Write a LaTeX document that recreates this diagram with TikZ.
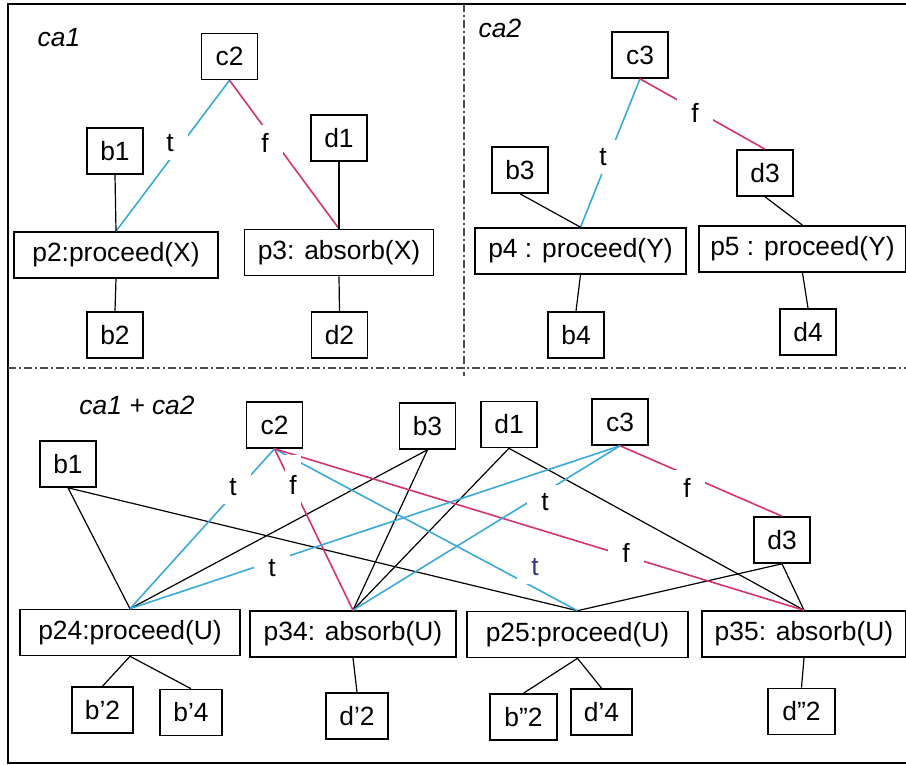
\documentclass[tikz,border=0pt]{standalone}
\usepackage{fontspec}
\setmainfont{Liberation Sans}
\usepackage{xcolor}
\definecolor{tblue}{RGB}{59,169,217}
\definecolor{fred}{RGB}{214,51,110}
\definecolor{tnavy}{RGB}{51,51,153}
\tikzset{
  box/.style={draw,line width=0.8pt,minimum width=28pt,minimum height=23pt,inner sep=0pt},
  pbox/.style={draw,line width=0.8pt,minimum width=#1,minimum height=23pt,inner sep=0pt},
  lbl/.style={fill=white,inner xsep=7pt,inner ysep=4pt},
  tline/.style={draw=tblue,line width=0.8pt},
  fline/.style={draw=fred,line width=0.8pt},
  sepline/.style={draw=black!70,line width=0.6pt,dash pattern=on 4pt off 1.5pt on 1pt off 1.5pt}
}

\begin{document}
\begin{tikzpicture}[x=0.5pt,y=-0.5pt,line width=0.6pt]
\tikzstyle{every node}=[font=\fontsize{13.2}{15}\selectfont]
\useasboundingbox (0,0) rectangle (906,765);
\draw[line width=0.8pt] (8,4) rectangle (908,763);
\path[sepline] (8,368) -- (908,368);
\path[sepline] (464,4) -- (464,376);

% ca1
\node at (59,38) (ca1) {\itshape ca1};
\node at (229.5,56.5) [box] (c2a) {c2};
\node at (115,151) [box] (b1a) {b1};
\node at (339,138) [box] (d1a) {d1};
\node at (116,255) [pbox=102pt] (p2) {p2:proceed(X)};
\node at (339,252.5) [pbox=94.5pt] (p3) {p3: absorb(X)};
\node at (115,335) [box] (b2) {b2};
\node at (339.5,335) [box] (d2) {d2};

% ca2
\node at (500,28) (ca2) {\itshape ca2};
\node at (640,55) [box] (c3a) {c3};
\node at (520,170) [box] (b3a) {b3};
\node at (765,173) [box] (d3a) {d3};
\node at (580.5,251) [pbox=105.5pt] (p4) {p4 : proceed(Y)};
\node at (802.5,249) [pbox=103.5pt] (p5) {p5 : proceed(Y)};
\node at (576,335) [box] (b4) {b4};
\node at (808,332) [box] (d4) {d4};

% ca1 + ca2
\node at (137,405) (ca12) {\itshape ca1 + ca2};
\node at (274.5,425) [box] (c2b) {c2};
\node at (427.5,426) [box] (b3b) {b3};
\node at (68,464) [box] (b1b) {b1};
\node at (509,424.5) [box] (d1b) {d1};
\node at (620,422) [box] (c3b) {c3};
\node at (782,540) [box] (d3b) {d3};
\node at (130,632.5) [pbox=110pt] (p24) {p24:proceed(U)};
\node at (353,634) [pbox=103pt] (p34) {p34: absorb(U)};
\node at (577.5,634.5) [pbox=110.5pt] (p25) {p25:proceed(U)};
\node at (804,634) [pbox=102pt] (p35) {p35: absorb(U)};
\node at (102.5,710) [pbox=30.5pt] (bp2) {b’2};
\node at (191,712.5) [pbox=31pt] (bp4) {b’4};
\node at (357,716) [pbox=31pt] (dp2) {d’2};
\node at (523.5,717) [pbox=33.5pt] (bpp2) {b”2};
\node at (601.5,712) [pbox=30.5pt] (dp4) {d’4};
\node at (801.5,711.5) [pbox=33.5pt] (dpp2) {d”2};

\path [tline] (c2a.south) -- (p2.north);
\path [fline] (c2a.south) -- (p3.north);
\path [draw] (b1a.south) -- (p2.north);
\path [draw] (d1a.south) -- (p3.north);
\path [draw] (p2.south) -- (b2.north);
\path [draw] (p3.south) -- (d2.north);

\path [tline] (c3a.south) -- (p4.north);
\path [fline] (c3a.south) -- (d3a.north);
\path [draw] (b3a.south) -- (p4.north);
\path [draw] (d3a.south) -- (p5.north);
\path [draw] (p4.south) -- (b4.north);
\path [draw] (p5.south) -- (d4.north);

\path [draw] (b1b.south) -- (p24.north);
\path [draw] (b1b.south) -- (p25.north);
\path [draw] (b3b.south) -- (p24.north);
\path [draw] (b3b.south) -- (p34.north);
\path [draw] (d1b.south) -- (p34.north);
\path [draw] (d1b.south) -- (p35.north);
\path [draw] (d3b.south) -- (p25.north);
\path [draw] (d3b.south) -- (p35.north);
\path [tline] (c2b.south) -- (p24.north);
\path [fline] (c2b.south) -- (p34.north);
\path [tline] (c2b.south) -- (p25.north);
\path [fline] (c2b.south) -- (p35.north);
\path [tline] (c3b.south) -- (p24.north);
\path [tline] (c3b.south) -- (p34.north);
\path [fline] (c3b.south) -- (d3b.north);
\path [draw] (p24.south) -- (bp2.north);
\path [draw] (p24.south) -- (bp4.north);
\path [draw] (p34.south) -- (dp2.north);
\path [draw] (p25.south) -- (bpp2.north);
\path [draw] (p25.south) -- (dp4.north);
\path [draw] (p35.south) -- (dpp2.north);

% t / f labels
\node at (170,143) [lbl] (ta) {t};
\node at (265,143) [lbl] (fa) {f};
\node at (603,157) [lbl] (tb) {t};
\node at (695,113) [lbl] (fb) {f};
\node at (233,487) [lbl] (tc) {t};
\node at (293,485) [lbl,inner xsep=2pt,inner ysep=10pt] (fc) {f};
\node at (272,568) [lbl] (td) {t};
\node at (545,502) [lbl] (te) {t};
\node at (535,567) [lbl,text=tnavy] (tf) {t};
\node at (626,553) [lbl] (fd) {f};
\node at (687,488) [lbl] (fe) {f};

\end{tikzpicture}
\end{document}
